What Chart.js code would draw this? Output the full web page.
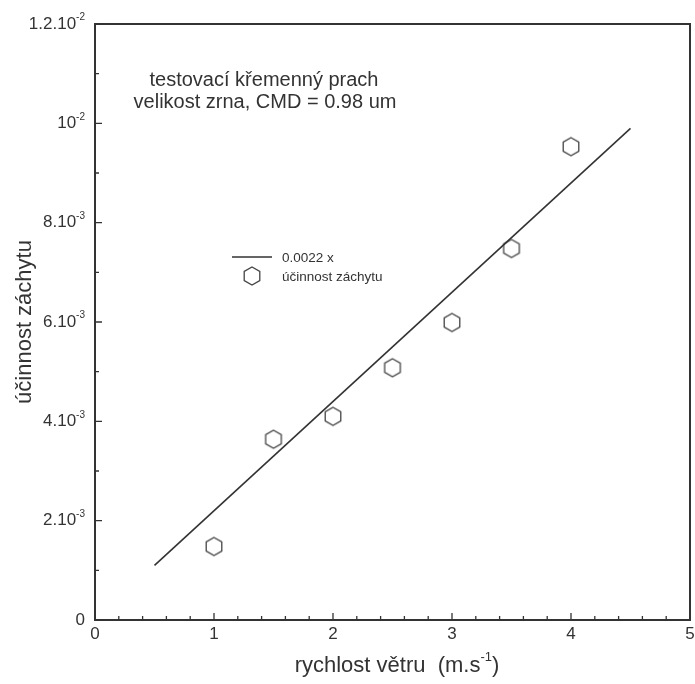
<!DOCTYPE html>
<html>
<head>
<meta charset="utf-8">
<script src="https://cdn.jsdelivr.net/npm/chart.js@4/dist/chart.umd.min.js"></script>
<style>
  html, body { margin: 0; padding: 0; background: #fff; }
</style>
</head>
<body>
<canvas id="chart" width="695" height="684"></canvas>
<script>
// measured points
const speeds = [1, 1.5, 2, 2.5, 3, 3.5, 4];
const efficiency = [0.00148, 0.00364, 0.00410, 0.00508, 0.00599, 0.00748, 0.00953];
// fitted line 0.0022 x
const fitX = [0.5, 4.5];
const fitY = [0.0011, 0.0099];

const xTicks = [0, 1, 2, 3, 4, 5];
const yTicks = [0, 0.002, 0.004, 0.006, 0.008, 0.010, 0.012];
const yTickLabels = [['0', ''], ['2.10', '-3'], ['4.10', '-3'], ['6.10', '-3'], ['8.10', '-3'], ['10', '-2'], ['1.2.10', '-2']];

const FONT = '"Liberation Sans", Arial, sans-serif';
const INK = '#333';

function hexagon(ctx, cx, cy, r) {
    ctx.beginPath();
    for (let k = 0; k < 6; k++) {
        const a = (-90 + 60 * k) * Math.PI / 180;
        const px = cx + r * Math.cos(a), py = cy + r * Math.sin(a);
        if (k === 0) ctx.moveTo(px, py); else ctx.lineTo(px, py);
    }
    ctx.closePath();
    ctx.stroke();
}

const hexImg = document.createElement('canvas');
hexImg.width = 22; hexImg.height = 22;
(function () {
    const c = hexImg.getContext('2d');
    c.strokeStyle = '#444';
    c.lineWidth = 1.3;
    hexagon(c, 11, 11, 9);
})();

// text with a small raised part after it
function supText(ctx, x, y, main, sup, size, align, tail) {
    const supSize = Math.round(size * 0.6);
    ctx.font = size + 'px ' + FONT;
    const w1 = ctx.measureText(main).width;
    const w3 = tail ? ctx.measureText(tail).width : 0;
    ctx.font = supSize + 'px ' + FONT;
    const w2 = sup ? ctx.measureText(sup).width : 0;
    const total = w1 + w2 + w3;
    let left = x;
    if (align === 'right') left = x - total;
    if (align === 'center') left = x - total / 2;
    ctx.textAlign = 'left';
    ctx.textBaseline = 'middle';
    ctx.font = size + 'px ' + FONT;
    ctx.fillText(main, left, y);
    if (tail) ctx.fillText(tail, left + w1 + w2, y);
    if (sup) {
        ctx.font = supSize + 'px ' + FONT;
        ctx.fillText(sup, left + w1, y - size * 0.38);
    }
}

const decor = {
    id: 'decor',
    afterDraw(chart) {
        const ctx = chart.ctx;
        const a = chart.chartArea;
        const xs = chart.scales.x, ys = chart.scales.y;
        ctx.save();
        ctx.strokeStyle = INK;
        ctx.fillStyle = INK;

        // frame
        ctx.lineWidth = 2;
        ctx.strokeRect(a.left, a.top, a.right - a.left, a.bottom - a.top);

        // ticks, inward
        ctx.lineWidth = 1.3;
        ctx.beginPath();
        for (let v = 0; v <= 5.001; v += 0.2) {
            const px = xs.getPixelForValue(v);
            const major = Math.abs(v - Math.round(v)) < 0.01;
            ctx.moveTo(px, a.bottom);
            ctx.lineTo(px, a.bottom - (major ? 7 : 4));
        }
        for (let v = 0; v <= 0.012001; v += 0.001) {
            const py = ys.getPixelForValue(v);
            const major = Math.round(v * 1000) % 2 === 0;
            ctx.moveTo(a.left, py);
            ctx.lineTo(a.left + (major ? 7 : 4), py);
        }
        ctx.stroke();

        // tick labels
        xTicks.forEach(v => {
            supText(ctx, xs.getPixelForValue(v), a.bottom + 14, String(v), '', 17, 'center');
        });
        yTicks.forEach((v, i) => {
            const l = yTickLabels[i];
            supText(ctx, a.left - 10, ys.getPixelForValue(v), l[0], l[1], 17, 'right');
        });

        // axis titles
        supText(ctx, 397, 666, 'rychlost větru  (m.s', '-1', 22, 'center', ')');

        ctx.save();
        ctx.translate(25, 322);
        ctx.rotate(-Math.PI / 2);
        ctx.textAlign = 'center';
        ctx.textBaseline = 'middle';
        ctx.font = '22px ' + FONT;
        ctx.fillText('účinnost záchytu', 0, 0);
        ctx.restore();

        // annotation
        ctx.font = '20px ' + FONT;
        ctx.textAlign = 'center';
        ctx.textBaseline = 'middle';
        ctx.fillText('testovací křemenný prach', 264, 80);
        ctx.fillText('velikost zrna, CMD = 0.98 um', 265, 102);

        // legend
        const ds = chart.data.datasets;
        ctx.lineWidth = 1.5;
        ctx.beginPath();
        ctx.moveTo(232, 257);
        ctx.lineTo(272, 257);
        ctx.stroke();
        ctx.drawImage(hexImg, 252 - 11, 276 - 11);
        ctx.font = '13.5px ' + FONT;
        ctx.textAlign = 'left';
        ctx.fillText(ds[0].label, 282, 258);
        ctx.fillText(ds[1].label, 282, 277);

        ctx.restore();
    }
};

new Chart(document.getElementById('chart').getContext('2d'), {
    type: 'scatter',
    data: {
        datasets: [{
            type: 'line',
            label: '0.0022 x',
            data: fitX.map((x, i) => ({ x: x, y: fitY[i] })),
            borderColor: INK,
            borderWidth: 1.6,
            pointRadius: 0,
            fill: false
        }, {
            label: 'účinnost záchytu',
            data: speeds.map((x, i) => ({ x: x, y: efficiency[i] })),
            pointStyle: hexImg,
            pointRadius: 10
        }]
    },
    options: {
        responsive: false,
        animation: false,
        layout: { autoPadding: false, padding: { left: 95, top: 24, right: 5, bottom: 64 } },
        plugins: { legend: { display: false }, tooltip: { enabled: false } },
        scales: {
            x: {
                type: 'linear', min: 0, max: 5,
                grid: { display: false }, border: { display: false },
                ticks: { display: false },
                afterFit: s => { s.height = 0; s.paddingRight = 0; s.paddingLeft = 0; }
            },
            y: {
                type: 'linear', min: 0, max: 0.012,
                grid: { display: false }, border: { display: false },
                ticks: { display: false },
                afterFit: s => { s.width = 0; s.paddingTop = 0; s.paddingBottom = 0; }
            }
        }
    },
    plugins: [decor]
});
</script>
</body>
</html>
